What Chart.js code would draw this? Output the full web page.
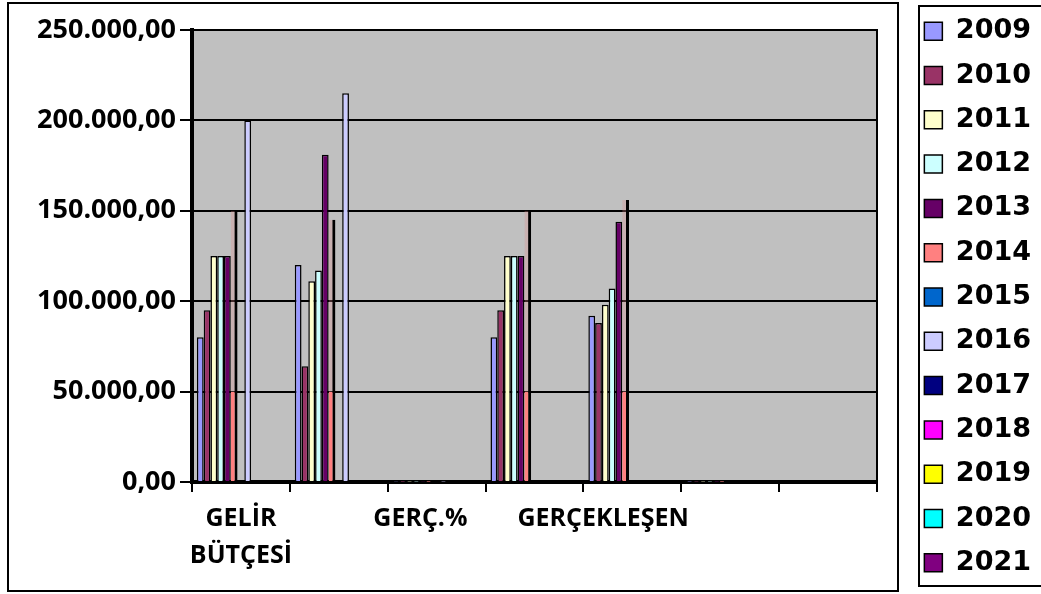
<!DOCTYPE html>
<html>
<head>
<meta charset="utf-8">
<script src="https://cdn.jsdelivr.net/npm/chart.js@4.4.1/dist/chart.umd.min.js"></script>
<style>
  html, body { margin: 0; padding: 0; background: #fff; }
  canvas { display: block; }
</style>
</head>
<body>
<canvas id="myChart" width="1041" height="594"></canvas>
<script>
// categories (only every other label is shown on the axis);
// trailing spaces nudge the labels left like in the original sheet
const categories = [["GELİR", "BÜTÇESİ"], "", "GERÇ.%     ", "", "GERÇEKLEŞEN         ", "", ""];
const yTickLabels = ["0,00", "50.000,00", "100.000,00", "150.000,00", "200.000,00", "250.000,00"];

const years = ["2009", "2010", "2011", "2012", "2013", "2014", "2015",
  "2016", "2017", "2018", "2019", "2020", "2021"];

const s2009 = [80000, 120000, 150, 80000, 92000, 116, 0];
const s2010 = [95000, 64000, 67, 95000, 88000, 93, 0];
const s2011 = [125000, 111000, 89, 125000, 98000, 78, 0];
const s2012 = [125000, 117000, 94, 125000, 107000, 86, 0];
const s2013 = [125000, 181000, 145, 125000, 144000, 115, 0];
const s2014 = [150000, 145000, 97, 150000, 156000, 104, 0];
const s2015 = [0, 0, 0, 0, 0, 0, 0];
const s2016 = [200000, 215000, 108, 0, 0, 0, 0];
const s2017 = [0, 0, 0, 0, 0, 0, 0];
const s2018 = [0, 0, 0, 0, 0, 0, 0];
const s2019 = [0, 0, 0, 0, 0, 0, 0];
const s2020 = [0, 0, 0, 0, 0, 0, 0];
const s2021 = [0, 0, 0, 0, 0, 0, 0];

const series = [s2009, s2010, s2011, s2012, s2013, s2014, s2015,
  s2016, s2017, s2018, s2019, s2020, s2021];

const colors = ["#9999ff", "#993366", "#ffffcc", "#ccffff", "#660066", "#ff8080",
  "#0066cc", "#ccccff", "#000080", "#ff00ff", "#ffff00", "#00ffff", "#800080"];

// the 2014 bars look see-through above the 50.000 line
function salmonFill(c) {
  const chart = c.chart;
  const area = chart.chartArea;
  if (!area) return colors[5];
  const y50 = chart.scales.y.getPixelForValue(50000);
  const stop = (area.bottom - y50) / (area.bottom - area.top);
  const g = chart.ctx.createLinearGradient(0, area.bottom, 0, area.top);
  g.addColorStop(0, "#ff8080");
  g.addColorStop(stop, "#ff8080");
  g.addColorStop(stop, "rgba(220,140,140,0.3)");
  g.addColorStop(1, "rgba(220,140,140,0.3)");
  return g;
}

const datasets = years.map((y, i) => ({
  label: y,
  data: series[i],
  backgroundColor: i === 5 ? salmonFill : colors[i],
  borderColor: "#000000",
  borderWidth: i === 5 ? { top: 0, left: 0, right: 3, bottom: 0 } : 1.5,
  categoryPercentage: 0.9,
  barPercentage: 1.0,
}));

const frame = {
  id: "frame",
  beforeDraw(chart) {
    const { ctx, chartArea: a } = chart;
    ctx.save();
    ctx.fillStyle = "#ffffff";
    ctx.fillRect(0, 0, chart.width, chart.height);
    ctx.fillStyle = "#c0c0c0";
    ctx.fillRect(a.left, a.top, a.right - a.left, a.bottom - a.top);
    ctx.restore();
  },
  afterDraw(chart) {
    const ctx = chart.ctx;
    ctx.save();
    ctx.strokeStyle = "#000000";
    ctx.lineWidth = 2;
    ctx.strokeRect(8, 3, 890, 588);
    ctx.strokeRect(919, 6, 200, 580);
    ctx.restore();
  },
};

const axisFont = { family: "'Open Sans', sans-serif", weight: "bold", size: 27 };

new Chart(document.getElementById("myChart").getContext("2d"), {
  type: "bar",
  data: { labels: categories, datasets: datasets },
  options: {
    responsive: false,
    animation: false,
    layout: { padding: { top: 0, left: 10, right: 0, bottom: 0 } },
    plugins: {
      tooltip: { enabled: false },
      legend: {
        position: "right",
        align: "center",
        labels: {
          boxWidth: 18,
          boxHeight: 18,
          padding: 17.3,
          color: "#000000",
          font: { family: "'DejaVu Sans', sans-serif", weight: "bold", size: 27 },
          generateLabels: (chart) =>
            Chart.defaults.plugins.legend.labels.generateLabels(chart).map((l, i) => ({
              ...l,
              fillStyle: colors[i],
              strokeStyle: "#000000",
              lineWidth: 1.5,
            })),
        },
      },
    },
    scales: {
      x: {
        grid: {
          display: true,
          drawOnChartArea: false,
          drawTicks: true,
          tickLength: 10,
          color: "#000000",
          lineWidth: 2,
        },
        border: { display: true, color: "#000000", width: 4 },
        ticks: {
          autoSkip: false,
          maxRotation: 0,
          minRotation: 0,
          padding: 8,
          color: "#000000",
          font: { family: "'Open Sans', sans-serif", weight: "bold", size: 25, lineHeight: 1.48 },
        },
        afterFit(s) { s.height = 112; },
      },
      y: {
        min: 0,
        max: 250000,
        grid: { color: "#000000", lineWidth: 2, tickLength: 12 },
        border: { display: true, color: "#000000", width: 4 },
        ticks: {
          stepSize: 50000,
          padding: 4,
          color: "#000000",
          font: axisFont,
          callback: (v, i) => yTickLabels[i],
        },
        afterFit(s) {
          s.width = 182;
          s.paddingTop = 30;
        },
      },
      y2: {
        position: "right",
        grid: { display: true, drawOnChartArea: false, drawTicks: false },
        border: { display: true, color: "#000000", width: 2 },
        ticks: { display: false },
        afterFit(s) { s.width = 30; },
      },
    },
  },
  plugins: [frame],
});
</script>
</body>
</html>
